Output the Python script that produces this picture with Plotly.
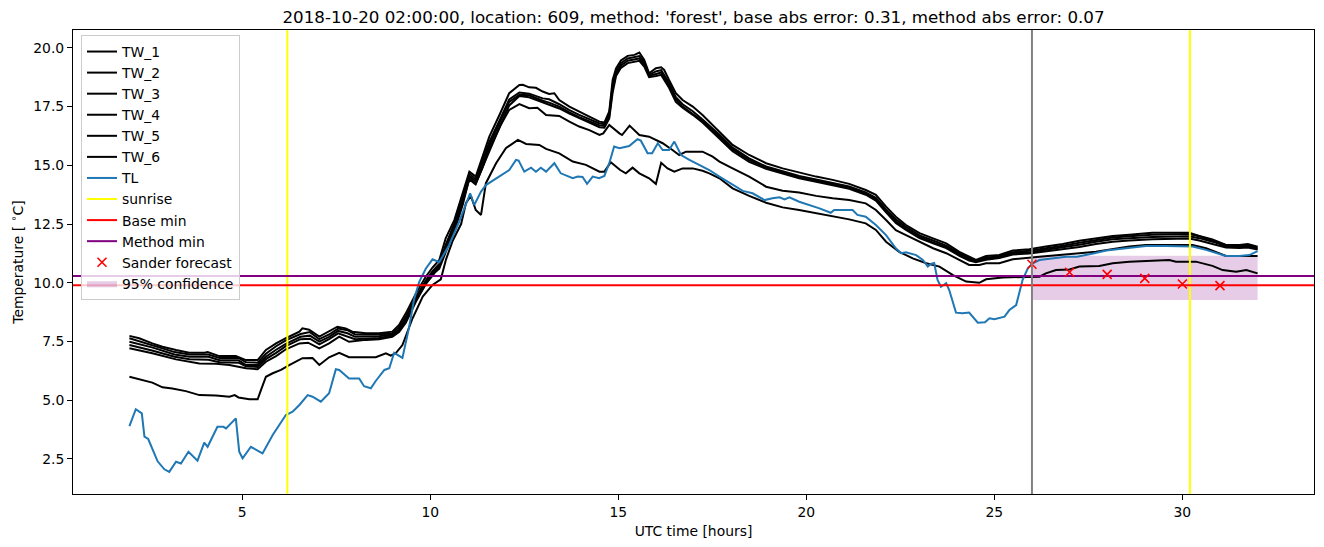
import plotly.graph_objects as go

# ---------------- data ----------------
TW_1 = [(2.0, 7.74), (2.26, 7.64), (2.61, 7.42), (2.88, 7.28), (3.24, 7.14), (3.59, 7.02), (4.0, 7.02),
        (4.08, 7.05), (4.39, 6.88), (4.83, 6.88), (5.1, 6.71), (5.41, 6.71), (5.63, 7.14), (5.9, 7.42),
        (6.16, 7.64), (6.52, 7.92), (6.6, 8.06), (6.78, 8.0), (7.05, 7.71), (7.31, 7.92), (7.53, 8.13),
        (7.75, 8.06), (7.93, 7.92), (8.29, 7.85), (8.64, 7.85), (8.99, 7.92), (9.17, 8.2), (9.35, 8.7),
        (9.62, 9.55), (9.88, 10.26), (10.06, 10.65), (10.24, 10.97), (10.41, 11.89), (10.64, 12.67),
        (10.86, 13.81), (11.0, 14.6), (11.04, 14.73), (11.21, 14.52), (11.39, 15.37), (11.57, 16.22),
        (11.84, 17.14), (12.1, 18.07), (12.37, 18.42), (12.46, 18.43), (12.63, 18.32), (12.81, 18.3),
        (12.99, 18.14), (13.16, 18.04), (13.3, 18.07), (13.43, 17.78), (13.7, 17.5), (13.96, 17.28),
        (14.23, 17.07), (14.5, 16.86), (14.63, 16.82), (14.76, 17.3), (14.85, 18.63), (14.94, 19.13),
        (15.07, 19.46), (15.25, 19.66), (15.43, 19.7), (15.56, 19.8), (15.69, 19.49), (15.82, 18.92),
        (16.0, 19.13), (16.14, 19.17), (16.22, 19.06), (16.35, 18.63), (16.53, 18.07), (16.71, 17.78),
        (16.98, 17.5), (17.24, 17.14), (17.51, 16.72), (17.69, 16.43), (18.04, 15.87), (18.48, 15.44),
        (18.93, 15.09), (19.37, 14.87), (19.81, 14.69), (20.26, 14.52), (20.7, 14.38), (21.14, 14.21),
        (21.58, 13.95), (21.85, 13.74), (22.12, 13.24), (22.38, 12.81), (22.65, 12.46), (23.01, 12.11),
        (23.37, 11.89), (23.72, 11.68), (24.07, 11.32), (24.33, 11.11), (24.51, 10.97), (24.78, 11.14),
        (25.13, 11.18), (25.49, 11.37), (25.93, 11.43), (26.37, 11.54), (26.82, 11.65), (27.26, 11.79),
        (27.7, 11.89), (28.15, 11.99), (28.59, 12.04), (29.2, 12.13), (30.18, 12.13), (30.45, 11.99),
        (30.8, 11.85), (31.16, 11.61), (31.52, 11.61), (31.74, 11.65), (32.0, 11.54)]

TW_2 = [(2.0, 7.64), (2.6, 7.35), (3.2, 7.05), (3.6, 6.95), (4.1, 6.95), (4.4, 6.8), (4.9, 6.8),
        (5.1, 6.62), (5.41, 6.6), (5.63, 6.98), (5.9, 7.3), (6.16, 7.55), (6.55, 7.82), (6.8, 7.9),
        (7.05, 7.6), (7.31, 7.8), (7.55, 8.05), (7.8, 7.98), (8.0, 7.8), (8.64, 7.8), (8.99, 7.85),
        (9.17, 8.1), (9.35, 8.55), (9.62, 9.4), (9.88, 10.1), (10.06, 10.5), (10.24, 10.8), (10.41, 11.6),
        (10.64, 12.5), (10.86, 13.6), (11.04, 14.65), (11.21, 14.4), (11.39, 15.2), (11.57, 16.0),
        (11.84, 16.9), (12.1, 17.8), (12.37, 18.1), (12.63, 18.05), (12.99, 17.85), (13.16, 17.81),
        (13.43, 17.6), (13.7, 17.35), (13.96, 17.15), (14.23, 16.95), (14.5, 16.78), (14.63, 16.75),
        (14.76, 17.2), (14.85, 18.4), (14.94, 19.0), (15.07, 19.35), (15.25, 19.55), (15.56, 19.65),
        (15.69, 19.4), (15.82, 18.85), (16.0, 19.0), (16.14, 19.05), (16.35, 18.5), (16.53, 17.9),
        (16.71, 17.6), (16.98, 17.3), (17.24, 16.95), (17.69, 16.3), (18.04, 15.75), (18.48, 15.3),
        (18.93, 14.95), (19.37, 14.75), (19.81, 14.55), (20.26, 14.4), (20.7, 14.25), (21.14, 14.1),
        (21.58, 13.85), (21.85, 13.62), (22.12, 13.12), (22.38, 12.7), (22.65, 12.38), (23.01, 12.02),
        (23.37, 11.8), (23.72, 11.58), (24.07, 11.25), (24.33, 11.05), (24.51, 10.95), (24.78, 11.08),
        (25.13, 11.12), (25.49, 11.3), (25.93, 11.36), (26.37, 11.46), (26.82, 11.58), (27.26, 11.7),
        (27.7, 11.82), (28.15, 11.93), (28.59, 11.98), (29.2, 12.05), (30.18, 12.08), (30.45, 11.98),
        (30.8, 11.8), (31.16, 11.6), (31.52, 11.55), (31.74, 11.6), (32.0, 11.5)]

TW_3 = [(2.0, 7.49), (2.6, 7.25), (3.2, 6.95), (3.6, 6.85), (4.1, 6.85), (4.4, 6.7), (4.9, 6.7),
        (5.1, 6.5), (5.41, 6.5), (5.63, 6.85), (5.9, 7.15), (6.16, 7.4), (6.55, 7.7), (6.8, 7.75),
        (7.05, 7.5), (7.31, 7.7), (7.55, 7.95), (7.8, 7.85), (8.0, 7.7), (8.64, 7.72), (8.99, 7.8),
        (9.17, 8.0), (9.35, 8.45), (9.62, 9.3), (9.88, 10.0), (10.06, 10.4), (10.24, 10.7), (10.41, 11.4),
        (10.64, 12.3), (10.86, 13.4), (11.04, 14.55), (11.21, 14.3), (11.39, 15.0), (11.57, 15.85),
        (11.84, 16.8), (12.1, 17.7), (12.37, 18.0), (12.63, 17.98), (12.99, 17.75), (13.16, 17.67),
        (13.43, 17.5), (13.7, 17.25), (13.96, 17.05), (14.23, 16.88), (14.5, 16.7), (14.63, 16.68),
        (14.76, 17.1), (14.85, 18.25), (14.94, 18.9), (15.07, 19.25), (15.25, 19.45), (15.56, 19.55),
        (15.69, 19.3), (15.82, 18.8), (16.0, 18.9), (16.14, 18.95), (16.35, 18.4), (16.53, 17.8),
        (16.71, 17.5), (16.98, 17.2), (17.24, 16.88), (17.69, 16.22), (18.04, 15.68), (18.48, 15.22),
        (18.93, 14.9), (19.37, 14.7), (19.81, 14.5), (20.26, 14.35), (20.7, 14.2), (21.14, 14.05),
        (21.58, 13.8), (21.85, 13.55), (22.12, 13.05), (22.38, 12.62), (22.65, 12.3), (23.01, 11.95),
        (23.37, 11.72), (23.72, 11.52), (24.07, 11.2), (24.33, 11.0), (24.51, 10.92), (24.78, 11.02),
        (25.13, 11.08), (25.49, 11.25), (25.93, 11.3), (26.37, 11.4), (26.82, 11.5), (27.26, 11.62),
        (27.7, 11.75), (28.15, 11.85), (28.59, 11.9), (29.2, 11.95), (30.18, 11.98), (30.45, 11.9),
        (30.8, 11.75), (31.16, 11.55), (31.52, 11.52), (31.74, 11.55), (32.0, 11.45)]

TW_4 = [(2.0, 7.35), (2.6, 7.12), (3.2, 6.85), (3.6, 6.75), (4.1, 6.72), (4.4, 6.62), (4.9, 6.6),
        (5.1, 6.45), (5.41, 6.42), (5.63, 6.75), (5.9, 7.02), (6.16, 7.3), (6.55, 7.6), (6.8, 7.62),
        (7.05, 7.38), (7.31, 7.6), (7.55, 7.85), (7.8, 7.7), (8.0, 7.6), (8.64, 7.65), (8.99, 7.75),
        (9.17, 7.95), (9.35, 8.4), (9.62, 9.25), (9.88, 9.95), (10.06, 10.35), (10.24, 10.6), (10.41, 11.3),
        (10.64, 12.2), (10.86, 13.3), (11.04, 14.45), (11.21, 14.2), (11.39, 14.9), (11.57, 15.7),
        (11.84, 16.6), (12.1, 17.55), (12.37, 17.95), (12.63, 17.9), (12.99, 17.68), (13.16, 17.6),
        (13.43, 17.42), (13.7, 17.2), (13.96, 17.0), (14.23, 16.82), (14.5, 16.62), (14.63, 16.6),
        (14.76, 17.0), (14.85, 18.1), (14.94, 18.8), (15.07, 19.15), (15.25, 19.35), (15.56, 19.45),
        (15.69, 19.2), (15.82, 18.75), (16.0, 18.8), (16.14, 18.85), (16.35, 18.3), (16.53, 17.7),
        (16.71, 17.45), (16.98, 17.15), (17.24, 16.82), (17.69, 16.15), (18.04, 15.6), (18.48, 15.15),
        (18.93, 14.85), (19.37, 14.65), (19.81, 14.45), (20.26, 14.3), (20.7, 14.15), (21.14, 14.0),
        (21.58, 13.75), (21.85, 13.5), (22.12, 13.0), (22.38, 12.55), (22.65, 12.25), (23.01, 11.9),
        (23.37, 11.68), (23.72, 11.48), (24.07, 11.15), (24.33, 10.95), (24.51, 10.88), (24.78, 10.98),
        (25.13, 11.05), (25.49, 11.2), (25.93, 11.25), (26.37, 11.33), (26.82, 11.42), (27.26, 11.52),
        (27.7, 11.65), (28.15, 11.75), (28.59, 11.8), (29.2, 11.85), (30.18, 11.88), (30.45, 11.8),
        (30.8, 11.65), (31.16, 11.5), (31.52, 11.48), (31.74, 11.5), (32.0, 11.42)]

TW_5 = [(2.0, 7.21), (2.61, 7.0), (3.24, 6.74), (3.86, 6.57), (4.3, 6.55), (4.66, 6.5), (5.1, 6.36),
        (5.41, 6.32), (5.63, 6.64), (5.9, 6.88), (6.16, 7.17), (6.52, 7.42), (6.75, 7.45), (7.05, 7.21),
        (7.31, 7.42), (7.58, 7.71), (7.84, 7.49), (8.29, 7.57), (8.64, 7.6), (8.99, 7.7), (9.17, 7.9),
        (9.35, 8.3), (9.62, 9.2), (9.88, 9.95), (10.06, 10.3), (10.24, 10.7), (10.42, 11.6), (10.64, 12.5),
        (10.86, 13.5), (11.04, 14.4), (11.2, 14.2), (11.4, 14.95), (11.6, 15.75), (11.85, 16.65),
        (12.1, 17.36), (12.37, 17.61), (12.63, 17.43), (12.85, 17.45), (13.08, 17.14), (13.43, 17.1),
        (13.7, 16.86), (13.96, 16.65), (14.23, 16.5), (14.5, 16.29), (14.6, 16.36), (14.76, 16.72),
        (15.03, 16.36), (15.1, 16.29), (15.3, 16.69), (15.56, 16.29), (15.82, 16.22), (16.18, 15.94),
        (16.44, 15.65), (16.62, 15.44), (16.8, 15.58), (17.24, 15.58), (17.51, 15.37), (17.69, 15.16),
        (18.04, 14.87), (18.48, 14.52), (18.93, 14.09), (19.37, 13.92), (19.81, 13.84), (20.26, 13.7),
        (20.7, 13.6), (21.14, 13.52), (21.58, 13.38), (21.85, 13.1), (22.12, 12.67), (22.38, 12.24),
        (22.65, 12.03), (23.01, 11.75), (23.37, 11.47), (23.72, 11.26), (24.07, 10.97), (24.33, 10.76),
        (24.6, 10.76), (24.78, 10.83), (25.13, 10.83), (25.49, 11.0), (26.2, 11.11), (26.82, 11.18),
        (27.26, 11.26), (27.7, 11.32), (28.15, 11.43), (28.59, 11.54), (29.03, 11.61), (30.27, 11.61),
        (30.63, 11.47), (30.98, 11.26), (31.16, 11.14), (32.0, 11.14)]

TW_6 = [(2.0, 6.0), (2.26, 5.89), (2.61, 5.75), (2.88, 5.55), (3.14, 5.5), (3.5, 5.39), (3.86, 5.22),
        (4.3, 5.2), (4.66, 5.15), (4.8, 5.22), (4.9, 5.12), (5.19, 5.04), (5.41, 5.04), (5.5, 5.44),
        (5.63, 6.0), (5.81, 6.15), (6.03, 6.29), (6.25, 6.5), (6.6, 6.79), (6.87, 6.8), (7.05, 6.5),
        (7.31, 6.83), (7.58, 7.02), (7.84, 6.83), (8.55, 6.83), (8.82, 7.0), (8.95, 6.9), (9.08, 7.0),
        (9.26, 7.35), (9.53, 8.49), (9.8, 9.41), (10.06, 9.91), (10.28, 10.15), (10.42, 11.0),
        (10.6, 11.8), (10.82, 12.5), (10.95, 13.4), (11.08, 13.7), (11.21, 13.1), (11.35, 12.89),
        (11.48, 14.24), (11.75, 15.09), (12.01, 15.73), (12.33, 16.08), (12.55, 15.91), (12.9, 15.87),
        (13.08, 15.7), (13.43, 15.51), (13.79, 15.16), (14.14, 15.02), (14.5, 14.73), (14.63, 14.73),
        (14.8, 15.13), (15.05, 14.8), (15.2, 14.66), (15.38, 14.9), (15.56, 14.66), (15.82, 14.45),
        (16.0, 14.21), (16.14, 15.11), (16.31, 14.87), (16.49, 14.73), (16.71, 14.87), (16.98, 14.87),
        (17.24, 14.77), (17.42, 14.66), (17.69, 14.45), (18.04, 14.02), (18.48, 13.7), (18.93, 13.41),
        (19.37, 13.21), (19.81, 13.1), (20.26, 12.96), (20.7, 12.81), (21.14, 12.7), (21.58, 12.53),
        (21.85, 12.25), (22.12, 11.75), (22.47, 11.32), (22.83, 11.04), (23.19, 10.83), (23.54, 10.69),
        (23.9, 10.33), (24.25, 10.05), (24.6, 10.0), (24.78, 10.15), (25.22, 10.23), (26.2, 10.26),
        (26.37, 10.4), (26.64, 10.54), (27.0, 10.57), (27.26, 10.69), (27.79, 10.72), (28.15, 10.83),
        (28.59, 10.9), (29.65, 10.97), (29.83, 10.9), (30.36, 10.9), (30.8, 10.72), (31.07, 10.54),
        (31.43, 10.47), (31.7, 10.54), (32.0, 10.4)]

TL = [(2.0, 3.9), (2.17, 4.62), (2.33, 4.44), (2.4, 3.45), (2.5, 3.35), (2.75, 2.4), (2.93, 2.06),
      (3.06, 1.95), (3.24, 2.38), (3.37, 2.31), (3.57, 2.81), (3.81, 2.43), (3.99, 3.2), (4.08, 3.02),
      (4.34, 3.87), (4.5, 3.87), (4.57, 3.8), (4.83, 4.23), (4.92, 2.81), (5.01, 2.53), (5.23, 3.02),
      (5.54, 2.74), (5.81, 3.52), (6.16, 4.37), (6.34, 4.51), (6.52, 4.8), (6.74, 5.22), (6.87, 5.15),
      (7.09, 4.94), (7.31, 5.3), (7.49, 6.32), (7.58, 6.29), (7.84, 5.93), (8.11, 5.93), (8.24, 5.6),
      (8.42, 5.51), (8.55, 5.82), (8.78, 6.29), (8.91, 6.36), (9.04, 7.02), (9.26, 6.8), (9.44, 8.13),
      (9.57, 9.3), (9.71, 10.05), (9.88, 10.6), (10.06, 11.0), (10.24, 10.88), (10.5, 11.6),
      (10.77, 12.6), (10.95, 13.3), (11.06, 13.81), (11.17, 13.31), (11.35, 13.88), (11.48, 14.16),
      (11.7, 14.38), (11.92, 14.59), (12.1, 14.8), (12.28, 15.23), (12.35, 15.2), (12.5, 14.73),
      (12.68, 14.9), (12.81, 14.73), (12.94, 14.9), (13.08, 14.73), (13.3, 15.09), (13.47, 14.66),
      (13.79, 14.45), (13.92, 14.52), (14.05, 14.5), (14.17, 14.21), (14.32, 14.52), (14.49, 14.45),
      (14.63, 14.55), (14.76, 15.09), (14.89, 15.8), (15.03, 15.73), (15.29, 15.82), (15.51, 16.11),
      (15.6, 16.05), (15.78, 15.51), (15.9, 15.51), (16.05, 15.94), (16.18, 15.65), (16.35, 15.65),
      (16.49, 16.01), (16.67, 15.44), (16.89, 15.23), (17.15, 15.02), (17.42, 14.8), (17.69, 14.52),
      (18.04, 14.16), (18.31, 13.91), (18.57, 13.81), (18.89, 13.52), (19.1, 13.6), (19.29, 13.64),
      (19.42, 13.55), (19.55, 13.64), (19.81, 13.45), (20.08, 13.31), (20.35, 13.17), (20.65, 12.98),
      (20.74, 13.1), (21.23, 13.1), (21.36, 12.89), (21.58, 12.81), (21.85, 12.46), (22.12, 12.03),
      (22.38, 11.47), (22.52, 11.26), (22.65, 11.3), (22.92, 11.18), (23.1, 10.97), (23.23, 10.69),
      (23.31, 10.8), (23.4, 10.84), (23.49, 10.12), (23.58, 9.83), (23.72, 9.98), (23.8, 9.69),
      (23.98, 8.73), (24.15, 8.7), (24.33, 8.73), (24.56, 8.3), (24.75, 8.32), (24.87, 8.49),
      (25.0, 8.45), (25.27, 8.56), (25.4, 8.84), (25.58, 9.05), (25.66, 9.55), (25.75, 10.12),
      (25.89, 10.62), (26.02, 10.83), (26.2, 10.97), (26.37, 11.0), (26.64, 11.04), (26.91, 11.11),
      (27.2, 11.11), (27.44, 11.18), (27.66, 11.26), (27.97, 11.37), (28.32, 11.43), (28.68, 11.5),
      (29.03, 11.57), (29.57, 11.57), (30.27, 11.54), (30.63, 11.4), (30.9, 11.26), (31.16, 11.14),
      (31.52, 11.14), (31.78, 11.18), (32.0, 11.35)]

sunrise_hours = [6.2, 30.2]
forecast_start = 26.0
base_min = 9.9
method_min = 10.29
forecast_hours = [26, 27, 28, 29, 30, 31]
forecast_values = [10.79, 10.45, 10.36, 10.19, 9.95, 9.88]
conf_hours = [26.0, 32.0]
conf_low = 9.27
conf_high = 11.15

x_range = [0.5, 33.5]
y_range = [1.01, 20.76]
x_ticks = [5, 10, 15, 20, 25, 30]
y_ticks = [2.5, 5.0, 7.5, 10.0, 12.5, 15.0, 17.5, 20.0]

title = "2018-10-20 02:00:00, location: 609, method: 'forest', base abs error: 0.31, method abs error: 0.07"

# ---------------- figure ----------------
FONT = "DejaVu Sans"
# the page body adds an 8 px margin around the figure, so the figure is sized to fit
FIG_W, FIG_H = 1308, 531
M_L, M_R, M_T, M_B = 65, 2, 22, 45
PLOT_W = FIG_W - M_L - M_R
PLOT_H = FIG_H - M_T - M_B

fig = go.Figure()

# confidence band (drawn first, listed last in legend)
fig.add_trace(go.Scatter(
    x=[conf_hours[0], conf_hours[1], conf_hours[1], conf_hours[0], conf_hours[0]],
    y=[conf_low, conf_low, conf_high, conf_high, conf_low],
    fill="toself", fillcolor="rgba(128,0,128,0.2)", mode="lines",
    line=dict(width=0, color="rgba(128,0,128,0)"),
    name="95% confidence", legendrank=13))

series = [("TW_1", TW_1), ("TW_2", TW_2), ("TW_3", TW_3), ("TW_4", TW_4), ("TW_5", TW_5), ("TW_6", TW_6)]
for i, (name, pts) in enumerate(series):
    fig.add_trace(go.Scatter(x=[p[0] for p in pts], y=[p[1] for p in pts], mode="lines",
                             line=dict(color="black", width=2), name=name, legendrank=1 + i))

fig.add_trace(go.Scatter(x=[p[0] for p in TL], y=[p[1] for p in TL], mode="lines",
                         line=dict(color="#1f77b4", width=2), name="TL", legendrank=7))

sx, sy = [], []
for h in sunrise_hours:
    sx += [h, h, None]
    sy += [y_range[0] - 1, y_range[1] + 1, None]
fig.add_trace(go.Scatter(x=sx, y=sy, mode="lines", line=dict(color="yellow", width=2),
                         name="sunrise", legendrank=8))

fig.add_trace(go.Scatter(x=[x_range[0] - 1, x_range[1] + 1], y=[base_min, base_min], mode="lines",
                         line=dict(color="red", width=2), name="Base min", legendrank=9))
fig.add_trace(go.Scatter(x=[x_range[0] - 1, x_range[1] + 1], y=[method_min, method_min], mode="lines",
                         line=dict(color="purple", width=2), name="Method min", legendrank=10))

fig.add_trace(go.Scatter(x=forecast_hours, y=forecast_values, mode="markers",
                         marker=dict(symbol="x-thin", size=9, color="red",
                                     line=dict(color="red", width=1.6)),
                         name="Sander forecast", legendrank=11))

fig.add_trace(go.Scatter(x=[forecast_start, forecast_start], y=[y_range[0] - 1, y_range[1] + 1],
                         mode="lines", line=dict(color="gray", width=2), showlegend=False))

axis_common = dict(showline=True, linecolor="black", linewidth=1, mirror=True,
                   ticks="outside", ticklen=5, tickwidth=1, tickcolor="black",
                   showgrid=False, zeroline=False, automargin=False,
                   tickfont=dict(family=FONT, size=13.9, color="black"))

fig.update_layout(
    width=FIG_W, height=FIG_H,
    margin=dict(l=M_L, r=M_R, t=M_T, b=M_B, autoexpand=False),
    plot_bgcolor="white", paper_bgcolor="white",
    font=dict(family=FONT, size=13.9, color="black"),
    title=dict(text=title, x=0.5, xref="paper", xanchor="center",
               y=1 - 9 / FIG_H, yref="container", yanchor="middle", automargin=False,
               font=dict(family=FONT, size=16.7, color="black")),
    xaxis=dict(range=x_range, tickvals=x_ticks, ticktext=[str(v) for v in x_ticks],
               title=dict(text="UTC time [hours]", standoff=8,
                          font=dict(family=FONT, size=13.9, color="black")),
               **axis_common),
    yaxis=dict(range=y_range, tickvals=y_ticks, ticktext=["%.1f" % v for v in y_ticks],
               title=dict(text="Temperature [ <sup>∘</sup>C]", standoff=12,
                          font=dict(family=FONT, size=13.9, color="black")),
               **axis_common),
    legend=dict(x=8 / PLOT_W, y=1 - 5 / PLOT_H, xanchor="left", yanchor="top",
                bgcolor="rgba(255,255,255,0.8)", bordercolor="#cccccc", borderwidth=1,
                font=dict(family=FONT, size=13.9, color="black"), tracegroupgap=0,
                itemwidth=30),
    showlegend=True,
)

fig.write_html("out.html")
